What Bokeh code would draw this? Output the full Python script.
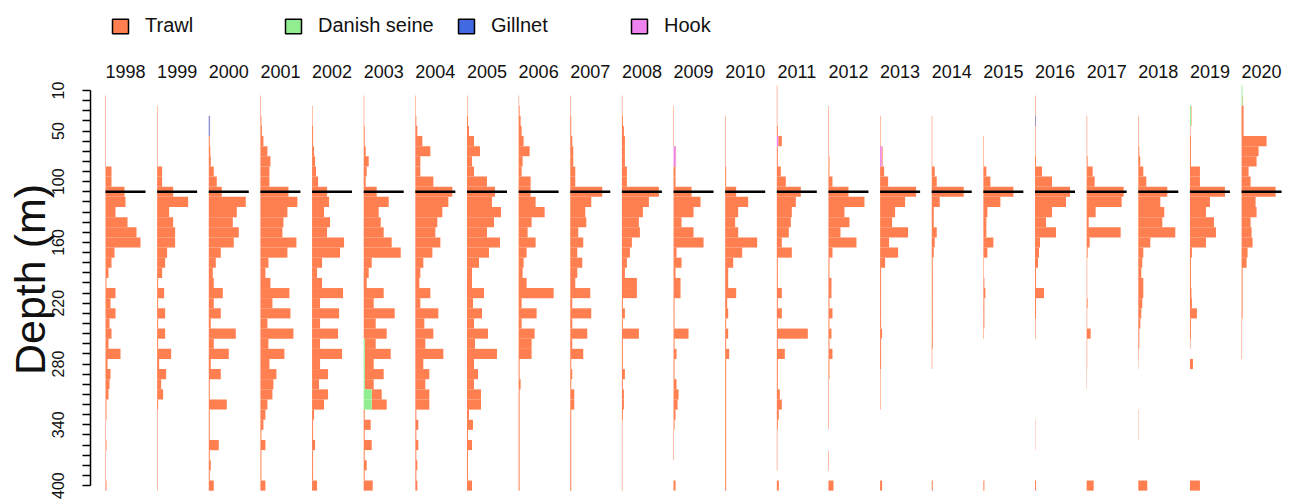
from bokeh.plotting import figure
from bokeh.layouts import column
from bokeh.models import ColumnDataSource, Range1d, FixedTicker, Legend, LegendItem
from bokeh.embed import file_html
from bokeh.resources import INLINE
from bokeh.core.properties import value

# ---------------- data ----------------
YEARS = list(range(1998, 2021))
DEPTHS = list(range(10, 401, 10))            # depth classes (m)
YTICK_LABELS = [10, 50, 100, 160, 220, 280, 340, 400]
REF_DEPTH = 110                              # reference depth line
GEARS = ["Trawl", "Danish seine", "Gillnet", "Hook"]
COLORS = {"Trawl": "#FF7F50", "Danish seine": "#90EE90", "Gillnet": "#4169E1", "Hook": "#EE82EE"}

# trawl relative catch per depth class (10..400 m), one list per year
t1998 = [0, .5, .5, .5, .5, .5, .5, .5,
         6, 6, 19, 20, 10, 22, 31, 35, 9, 6, 3,
         1, 10, 5, 10, 4, 6, 3, 15, 2, 5, 4, 3, 1, 1, .5, .5, 1, .5, .5, .5, 1]
t1999 = [0, 0, .5, .5, .5, .5, .5, .5,
         5, 5, 16, 31, 12, 16, 18, 18, 10, 8, 5,
         1, 7, 1, 8, 1, 8, 1, 14, 2, 9, 4, 6, 1, .5, .5, .5, .5, .5, .5, .5, .5]
t2000 = [0, 0, 0, .5, .5, 1, 1.5, 2,
         5, 8, 13, 37, 28, 24, 30, 25, 12, 7, 4,
         5, 14, 5, 12, 2, 27, 5, 20, 2, 12, 1, 1, 18, 1, 1, 1, 10, 1, 2, 1, 5]
t2001 = [0, .5, .5, 1, 1.5, 3, 7, 10,
         9, 9, 28, 37, 27, 23, 22, 36, 27, 8, 5,
         10, 29, 12, 30, 7, 33, 8, 24, 9, 16, 13, 12, 7, 5, 3, 1, 5, 1, 1, 1, 5]
t2002 = [0, 0, .5, .5, 1, 1, 2, 3,
         4, 6, 15, 17, 12, 18, 15, 32, 28, 10, 5,
         10, 31, 8, 27, 8, 26, 8, 30, 8, 16, 7, 16, 12, 2, 1, 1, 3, 1, 1, 1, 5]
t2003 = [0, .5, .5, .5, 1, 1, 2, 5,
         3, 2, 13, 25, 15, 17, 20, 28, 37, 8, 5,
         3, 20, 10, 31, 12, 23, 11, 26, 9, 19, 9, 10, 15, 1, 7, 1, 8, 1, 3, 1, 9]
t2004 = [0, .5, .5, 1, 2, 7, 15, 5,
         5, 18, 37, 33, 27, 22, 20, 25, 17, 8, 5,
         4, 15, 5, 23, 9, 18, 10, 28, 8, 14, 10, 14, 14, 1, 3, 1, 3, 1, 2, 1, 2]
t2005 = [0, .5, .5, 1, 2, 7, 13, 5,
         7, 20, 28, 25, 34, 27, 20, 33, 22, 12, 5,
         5, 17, 6, 15, 7, 21, 8, 30, 7, 11, 7, 14, 14, 2, 6, 1, 5, 1, 1, 1, 5]
t2006 = [0, .5, 1, 2, 3, 5, 11, 4,
         3, 12, 12, 17, 26, 13, 9, 17, 8, 5, 4,
         8, 35, 3, 18, 3, 16, 13, 13, 1, 1, 2, 1, 1, 1, 1, 1, 1, 1, 1, 1, 1]
t2007 = [0, .5, .5, 1, 1, 2, 3, 3,
         5, 5, 32, 21, 15, 16, 8, 13, 7, 12, 7,
         5, 20, 2, 21, 2, 17, 2, 13, 1, 2, 1, 4, 4, 1, 1, 1, 1, 1, 1, 1, 1]
t2008 = [0, .5, .5, 1, 2, 3, 3, 3,
         5, 5, 37, 27, 21, 17, 18, 10, 8, 5, 3,
         15, 15, 1, 3, 1, 17, 1, 1, 1, 3, 1, 2, 2, 1, .5, .5, .5, .5, .5, .5, .5]
t2009 = [0, 0, .5, .5, .5, .5, .5, .5,
         2, 2, 18, 27, 20, 8, 20, 30, 3, 8, 2,
         7, 7, 1, 1, 1, 15, 1, 3, 1, 1, 3, 5, 4, 2, 1, .5, .5, .5, 0, 0, 2]
t2010 = [0, 0, 0, .5, .5, .5, .5, .5,
         1, 1, 11, 23, 13, 10, 13, 32, 17, 8, 3,
         3, 11, 2, 3, 1, 3, 1, 4, 1, 1, 1, 1, 1, 1, 1, 1, 1, 1, 1, 1, 1]
t2011 = [.5, .5, .5, .5, 1, 3.5, 1, 1,
         4, 9, 24, 19, 15, 14, 12, 5, 15, 1, 1,
         1, 5, 1, 5, 1, 31, 1, 8, 1, 1, 1, 3, 5, 2, 1, .5, .5, .5, .5, 0, 2]
t2012 = [0, 0, .5, .5, .5, .5, .5, 1,
         1, 4, 20, 36, 16, 21, 12, 28, 4, 1, 1,
         3, 3, 1, 4, 1, 3, 1, 4, 1, 1, .5, .5, .5, .5, .5, 0, 0, .5, .5, 0, 5]
t2013 = [0, 0, 0, .5, .5, .5, 1, 1,
         4, 8, 36, 25, 15, 12, 28, 9, 18, 5, 1,
         1, 1, 1, 1, 1, 2, 1, 1, 1, .5, .5, .5, .5, 0, 0, 0, 0, 0, 0, 0, 2]
t2014 = [0, 0, 0, .5, .5, .5, .5, .5,
         3, 5, 32, 8, 2, 2, 5, 3, 2, 1, 1,
         1, 1, 1, 1, 1, 1, 1, .5, .5, 0, 0, 0, 0, 0, 0, 0, 0, 0, 0, 0, 1]
t2015 = [0, 0, 0, 0, 0, .5, .5, .5,
         3, 7, 30, 17, 4, 3, 3, 10, 4, .5, .5,
         1, 2, 1, 1, 1, .5, 0, 0, 0, 0, 0, 0, 0, 0, 0, 0, 0, 0, 0, 0, 1]
t2016 = [0, .5, .5, .5, .5, .5, .5, 1,
         7, 17, 35, 31, 17, 11, 21, 5, 4, 3, 1,
         1, 9, 1, 1, .5, .5, 0, 0, 0, 0, 0, 0, 0, 0, .3, .3, .3, 0, 0, 0, 1]
t2017 = [0, 0, 0, .5, .5, .5, .5, 1,
         6, 8, 37, 35, 9, 2, 34, 3, 1, .5, .5,
         .5, .5, 1, .5, .5, 4, .5, .5, .5, .3, .3, 0, 0, 0, 0, 0, 0, 0, 0, 0, 7]
t2018 = [0, 0, 0, .5, .5, .5, 1, 2,
         5, 8, 29, 22, 26, 24, 37, 12, 5, 4, 3,
         5, 5, 4, 3, 2, 1, 1, .5, .3, 0, 0, 0, 0, .3, .3, .3, 0, 0, 0, 0, 9]
t2019 = [0, 0, .5, .5, .5, 1, 1, 1,
         10, 10, 35, 20, 16, 24, 26, 16, 2, 1, 1,
         1, 1.5, 2, 7, 1, 1, .5, 0, 3, 0, 0, 0, 0, 0, 0, 0, 0, 0, 0, 0, 10]
t2020 = [0, .5, 2, 2, 2, 25, 17, 15,
         7, 9, 34, 14, 15, 9, 10, 11, 6, 5, 1,
         1, 1, 1, 1, .5, .5, .5, .5, 0, 0, 0, 0, 0, 0, 0, 0, 0, 0, 0, 0, 0]

# other gears: (year, depth, value)
danish_seine = [(2003, 260, 1), (2003, 270, 1), (2003, 280, 1), (2003, 290, 1), (2003, 300, 1),
                (2003, 310, 8), (2003, 320, 8), (2019, 30, 1), (2019, 40, 1),
                (2020, 10, .8), (2020, 20, 1)]
gillnet = [(2000, 40, .8), (2000, 50, .8), (2016, 40, .5)]
hook = [(2009, 70, 2), (2009, 80, 2), (2011, 60, 1.5), (2013, 70, 1.5), (2013, 80, 1.5)]

trawl = dict(zip(YEARS, [t1998, t1999, t2000, t2001, t2002, t2003, t2004, t2005, t2006, t2007,
                         t2008, t2009, t2010, t2011, t2012, t2013, t2014, t2015, t2016, t2017,
                         t2018, t2019, t2020]))

# ---------------- layout constants ----------------
PANEL_STEP = 51.64   # x units between panels
LINE_LEN = 40.0      # length of the reference line in x units

def base(year):
    return (year - YEARS[0]) * PANEL_STEP

# ---------------- build stacked bars ----------------
others = {"Danish seine": danish_seine, "Gillnet": gillnet, "Hook": hook}
cum = {(y, d): 0.0 for y in YEARS for d in DEPTHS}
cols = {g: dict(y=[], left=[], right=[]) for g in GEARS}
for g in ["Danish seine", "Gillnet", "Hook"]:
    for (yr, d, v) in others[g]:
        l = base(yr) + cum[(yr, d)]
        cols[g]["y"].append(d); cols[g]["left"].append(l); cols[g]["right"].append(l + v)
        cum[(yr, d)] += v
for yr in YEARS:
    for d, v in zip(DEPTHS, trawl[yr]):
        if v <= 0:
            continue
        l = base(yr) + cum[(yr, d)]
        cols["Trawl"]["y"].append(d); cols["Trawl"]["left"].append(l); cols["Trawl"]["right"].append(l + v)

FONT = "Liberation Sans"

# ---------------- legend strip ----------------
lg = figure(width=1295, height=56, output_backend="svg", toolbar_location=None,
            x_range=Range1d(0, 1295), y_range=Range1d(0, 56),
            x_axis_location=None, y_axis_location=None,
            min_border_left=0, min_border_right=0, min_border_top=0, min_border_bottom=0)
lg.outline_line_color = None
lg.xgrid.visible = False
lg.ygrid.visible = False
leg_items = []
for g in GEARS:
    r = lg.quad(left=[-5000], right=[-4999], top=[0], bottom=[1], fill_color=COLORS[g],
                line_color="black", line_width=1.5)
    leg_items.append(LegendItem(label=g, renderers=[r]))
legend = Legend(items=leg_items, orientation="horizontal", location=(20, 19),
                glyph_width=20, glyph_height=18, label_height=18, label_standoff=15,
                label_width=138, spacing=0, padding=0, margin=0,
                border_line_alpha=0, background_fill_alpha=0,
                label_text_font=FONT, label_text_font_size="20px", label_text_color="#111111")
lg.add_layout(legend)

# ---------------- main panel ----------------
p = figure(width=1295, height=446, output_backend="svg", toolbar_location=None,
           x_range=Range1d(-15, 1190), y_range=Range1d(416.7, -23.56),
           x_axis_location=None, min_border_left=90, min_border_right=0,
           min_border_top=0, min_border_bottom=0)
p.outline_line_color = None
p.xgrid.visible = False
p.ygrid.visible = False
p.background_fill_color = "white"

for g in GEARS:
    p.hbar(y="y", left="left", right="right", height=10, source=ColumnDataSource(cols[g]),
           fill_color=COLORS[g], line_color=None)

# reference lines
p.segment(x0=[base(y) for y in YEARS], x1=[base(y) + LINE_LEN for y in YEARS],
          y0=[REF_DEPTH] * len(YEARS), y1=[REF_DEPTH] * len(YEARS),
          line_color="black", line_width=2.5)

# year labels
p.text(x=[base(y) + LINE_LEN / 2 for y in YEARS], y=[-8.3] * len(YEARS),
       text=[str(y) for y in YEARS], text_align="center", text_baseline="middle",
       text_font=value(FONT), text_font_size="18px", text_color="#111111")

# y axis
ax = p.yaxis[0]
ax.ticker = FixedTicker(ticks=DEPTHS)
ax.major_label_overrides = {d: (str(d) if d in YTICK_LABELS else "") for d in DEPTHS}
ax.bounds = (10, 400)
ax.major_tick_out = 8
ax.major_tick_in = 0
ax.minor_tick_line_color = None
ax.axis_line_width = 1.5
ax.major_tick_line_width = 1.5
ax.axis_line_color = "black"
ax.major_tick_line_color = "black"
ax.major_label_orientation = "vertical"
ax.major_label_standoff = 18
ax.major_label_text_font = FONT
ax.major_label_text_font_size = "16px"
ax.major_label_text_color = "#111111"
ax.axis_label = "Depth (m)"
ax.axis_label_standoff = -4
ax.axis_label_text_font = FONT
ax.axis_label_text_font_size = "43px"
ax.axis_label_text_font_style = "normal"
ax.axis_label_text_color = "#111111"

layout = column(lg, p, spacing=0)
open("out.html", "w").write(file_html(layout, INLINE))
